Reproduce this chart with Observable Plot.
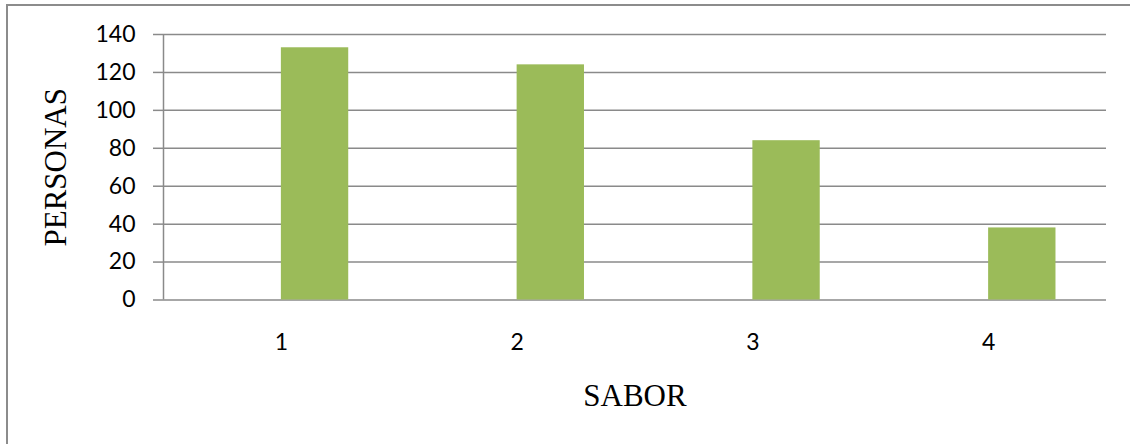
<!DOCTYPE html>
<html>
<head>
<meta charset="utf-8">
<script src="https://cdn.jsdelivr.net/npm/d3@7"></script>
<script src="https://cdn.jsdelivr.net/npm/@observablehq/plot@0.6"></script>
<style>
  html, body { margin: 0; padding: 0; background: #fff; overflow: hidden; }
  #wrap { position: relative; width: 1130px; height: 444px; }
  #border { position: absolute; left: 6px; top: 4px; width: 1200px; height: 600px;
            border: 2px solid #8c8c8c; box-sizing: border-box; }
  #chart { position: absolute; left: 0; top: 0; }
</style>
</head>
<body>
<div id="wrap">
  <div id="border"></div>
  <div id="chart"></div>
</div>
<script>
// Number of people per flavour
const sabores = [1, 2, 3, 4];
const personas = [133, 124, 84, 38];
const yTicks = [0, 20, 40, 60, 80, 100, 120, 140];
const xLabel = "SABOR";
const yLabel = "PERSONAS";

const rows = sabores.map((s, i) => ({sabor: s, personas: personas[i]}));

// Each bar takes 1/3.5 of a category slot, starting at the slot centre
const barWidth = 1 / 3.5;
const gridColor = "#8a8a8a";
const titleFont = "Liberation Serif, Times New Roman, serif";

const chart = Plot.plot({
  width: 1130,
  height: 444,
  marginLeft: 163,
  marginRight: 24,
  marginTop: 34,
  marginBottom: 144.5,
  style: {fontFamily: "Lato", fontSize: "23px", color: "#000", background: "transparent", overflow: "visible"},
  x: {domain: [0.5, 4.5], label: null},
  y: {domain: [0, 140], label: null},
  marks: [
    Plot.ruleY(yTicks, {stroke: gridColor, strokeWidth: 1.5}),
    Plot.ruleX([0.5], {y1: 0, y2: 140, stroke: gridColor, strokeWidth: 1.5}),
    Plot.rectY(rows, {
      x1: "sabor",
      x2: d => d.sabor + barWidth,
      y: "personas",
      fill: "#9bbb59"
    }),
    Plot.axisY({
      ticks: yTicks,
      tickSize: 10,
      tickPadding: 18,
      stroke: gridColor,
      strokeWidth: 1.5,
      strokeOpacity: 1,
      fontSize: 23,
      fill: "#000",
      label: null
    }),
    Plot.axisX({
      ticks: sabores,
      tickSize: 0,
      tickPadding: 34,
      tickFormat: d => String(d),
      fontSize: 23,
      fill: "#000",
      label: null
    }),
    Plot.text([xLabel], {
      frameAnchor: "bottom",
      dy: 96,
      text: d => d,
      fontFamily: titleFont,
      fontSize: 31,
      textAnchor: "middle",
      lineAnchor: "middle",
      fill: "#000"
    }),
    Plot.text([yLabel], {
      frameAnchor: "left",
      dx: -107,
      text: d => d,
      rotate: -90,
      fontFamily: titleFont,
      fontSize: 31,
      textAnchor: "middle",
      lineAnchor: "middle",
      fill: "#000"
    })
  ]
});

document.getElementById("chart").appendChild(chart);
</script>
</body>
</html>
